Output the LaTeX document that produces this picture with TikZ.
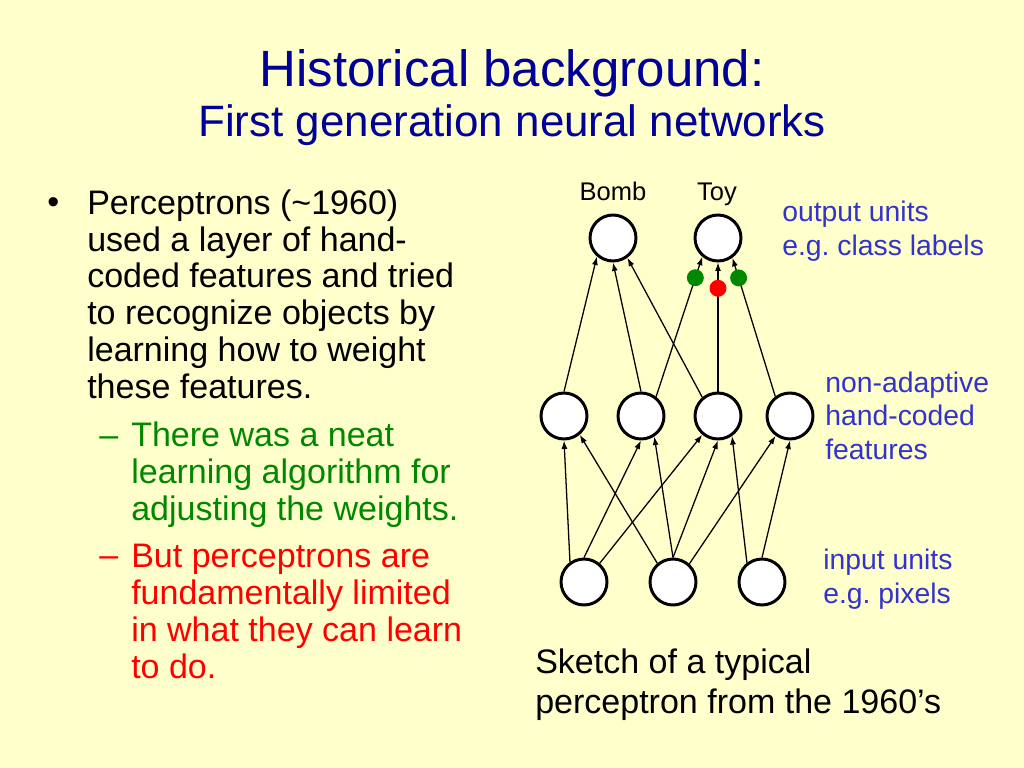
\documentclass[tikz,border=0pt]{standalone}
\usepackage{fontspec}
\setmainfont{Liberation Sans}
\usetikzlibrary{arrows.meta}
\definecolor{slidebg}{RGB}{255,255,204}
\definecolor{titleblue}{RGB}{0,0,153}
\definecolor{labelblue}{RGB}{51,51,204}
\definecolor{goodgreen}{RGB}{0,136,0}
\definecolor{badred}{RGB}{255,0,0}
\frenchspacing
\begin{document}
\begin{tikzpicture}[x=0.0248cm, y=-0.0248cm,
    unit/.style={circle, draw, line width=2.1pt, fill=white, minimum size=1.14cm, inner sep=0pt},
    conn/.style={-{Latex[length=6pt,width=4.2pt]}, line width=0.9pt},
    wdot/.style={circle, inner sep=0pt, minimum size=0.42cm},
    body/.style={anchor=base west, inner sep=0pt, align=left, font=\fontsize{24}{26}\selectfont},
    side/.style={anchor=base west, inner sep=0pt, align=left, text=labelblue, font=\fontsize{20}{23.3}\selectfont}]
    \fill[slidebg] (0,0) rectangle (1024,768);
    \useasboundingbox (0,0) rectangle (1024,768);
    % title
    \node[anchor=base, inner sep=0pt, text=titleblue, font=\fontsize{36}{40}\selectfont] (title) at (512,86.7) {Historical background:};
    \node[anchor=base, inner sep=0pt, text=titleblue, font=\fontsize{31}{36}\selectfont] (subtitle) at (512,136.7) {First generation neural networks};
    % bullet text (base = last line)
    \node[body] (dot1) at (47,213) {\textbullet};
    \node[body] (perc) at (87,398.5) {Perceptrons (\textasciitilde1960)\\used a layer of hand-\\coded features and tried\\to recognize objects by\\learning how to weight\\these features.};
    \node[body, text=goodgreen] (dash1) at (99,446) {–};
    \node[body, text=goodgreen] (neat) at (131,520) {There was a neat\\learning algorithm for\\adjusting the weights.};
    \node[body, text=badred] (dash2) at (99,566.5) {–};
    \node[body, text=badred] (limit) at (131,678) {But perceptrons are\\fundamentally limited\\in what they can learn\\to do.};
    % units
    \node[unit] (bomb) at (613,238) {};
    \node[unit] (toy) at (718,238) {};
    \foreach \x [count=\i] in {564,641,718,790}
        \node[unit] (h\i) at (\x,416) {};
    \foreach \x [count=\i] in {584,673,762}
        \node[unit] (in\i) at (\x,582) {};
    \node[anchor=base, inner sep=0pt, font=\fontsize{18}{20}\selectfont] (bombname) at (613,200) {Bomb};
    \node[anchor=base, inner sep=0pt, font=\fontsize{18}{20}\selectfont] (toyname) at (717,200) {Toy};
    % input to features
    \draw[conn] (in1.125) -- (h1.270);
    \draw[conn] (in2.130) -- (h1.310);
    \draw[conn] (in1.90) -- (h2.270);
    \draw[conn] (in2.90) -- (h2.303);
    \draw[conn] (in1.50) -- (h3.230);
    \draw[conn] (in2.90) -- (h3.270);
    \draw[conn] (in3.128) -- (h3.305);
    \draw[conn] (in2.48) -- (h4.234);
    \draw[conn] (in3.90) -- (h4.270);
    % features to outputs
    \draw[conn] (h1.90) -- (bomb.229);
    \draw[conn] (h2.90) -- (bomb.270);
    \draw[conn] (h3.130) -- (bomb.306);
    \draw[conn] (h2.52) -- node[wdot, fill=goodgreen, pos=0.85] (wa) {} (toy.230);
    \draw[conn] (h3.90) -- node[wdot, fill=badred, pos=0.8] (wb) {} (toy.270);
    \draw[conn] (h4.127) -- node[wdot, fill=goodgreen, pos=0.855] (wc) {} (toy.306);
    % layer labels
    \node[side] (outlab) at (782,255) {output units\\e.g. class labels};
    \node[side] (featlab) at (825,459) {non-adaptive\\hand-coded\\features};
    \node[side] (inlab) at (823,603) {input units\\e.g. pixels};
    \node[anchor=base west, inner sep=0pt, align=left, font=\fontsize{24}{28.1}\selectfont] (caption) at (535,713) {Sketch of a typical\\perceptron from the 1960’s};
\end{tikzpicture}
\end{document}
